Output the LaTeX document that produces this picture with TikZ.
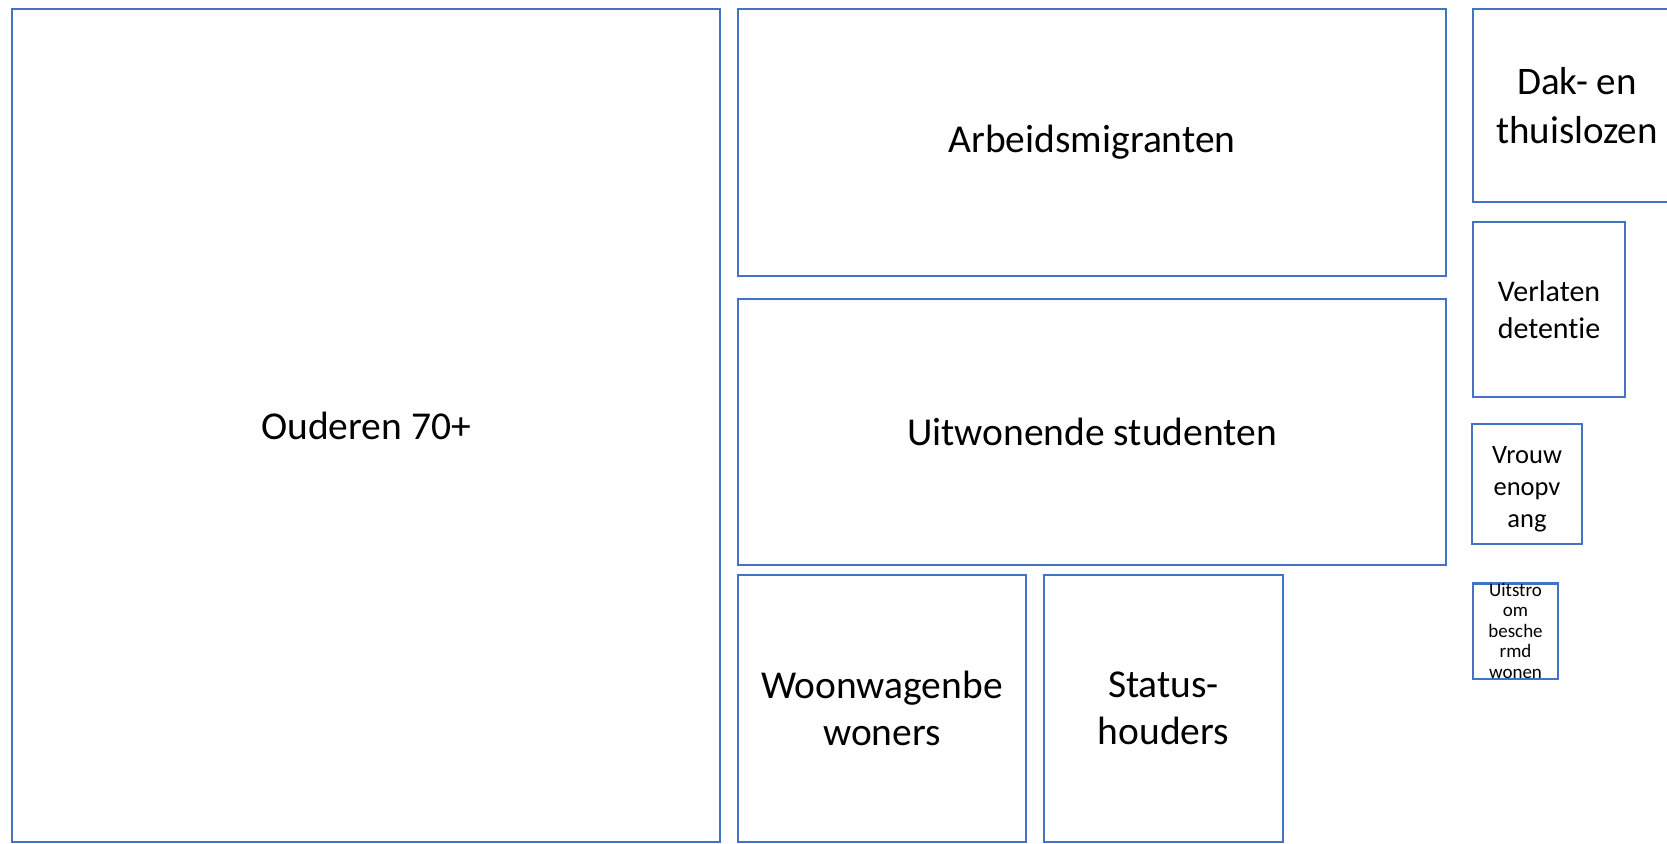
\documentclass[tikz,border=0pt]{standalone}
\usepackage{fontspec}
\setmainfont{Carlito}[Ligatures={NoCommon,NoRare}]
\definecolor{boxblue}{HTML}{4472C4}
\begin{document}
\begin{tikzpicture}[x=1pt,y=-1pt,
  cell/.style={draw=boxblue, line width=2.2pt, line join=miter, inner sep=0pt, align=center, text=black},
  big/.style={font=\fontsize{39.5}{47}\selectfont},
  mid/.style={font=\fontsize{39}{49}\selectfont},
  sm/.style={font=\fontsize{30}{37}\selectfont},
  xs/.style={font=\fontsize{26.5}{32}\selectfont},
  xxs/.style={font=\fontsize{19}{20.5}\selectfont}]
\useasboundingbox (0,0) rectangle (1667,843);
\clip (0,0) rectangle (1667,843);
\fill[white] (0,0) rectangle (1667,843);
\node[cell, big, minimum width=708pt, minimum height=833pt] (oud) at (366,425.5) {Ouderen 70+};
\node[cell, big, minimum width=708pt, minimum height=267pt] (arb) at (1092,142.5) {Arbeidsmigranten};
\node[cell, big, minimum width=708pt, minimum height=266pt] (uit) at (1092,432) {Uitwonende studenten};
\node[cell, big, minimum width=288pt, minimum height=267pt] (woon) at (882,708.5) {Woonwagenbe\\woners};
\node[cell, big, minimum width=239pt, minimum height=267pt] (stat) at (1163.5,708.5) {Status-\\houders};
\node[cell, mid, minimum width=208pt, minimum height=193pt] (dak) at (1577,105.5) {Dak- en\\thuislozen};
\node[cell, sm, minimum width=152pt, minimum height=175pt] (verl) at (1549,309.5) {Verlaten\\detentie};
\node[cell, xs, minimum width=110pt, minimum height=120pt] (vrouw) at (1527,484) {\raisebox{-5pt}[\height][\depth]{\begin{tabular}{@{}c@{}}Vrouw\\enopv\\ang\end{tabular}}};
\node[cell, xxs, minimum width=85pt, minimum height=82pt] (uitstr) at (1515.5,631) {Uitstro\\om\\besche\\rmd\\wonen};
\end{tikzpicture}
\end{document}
